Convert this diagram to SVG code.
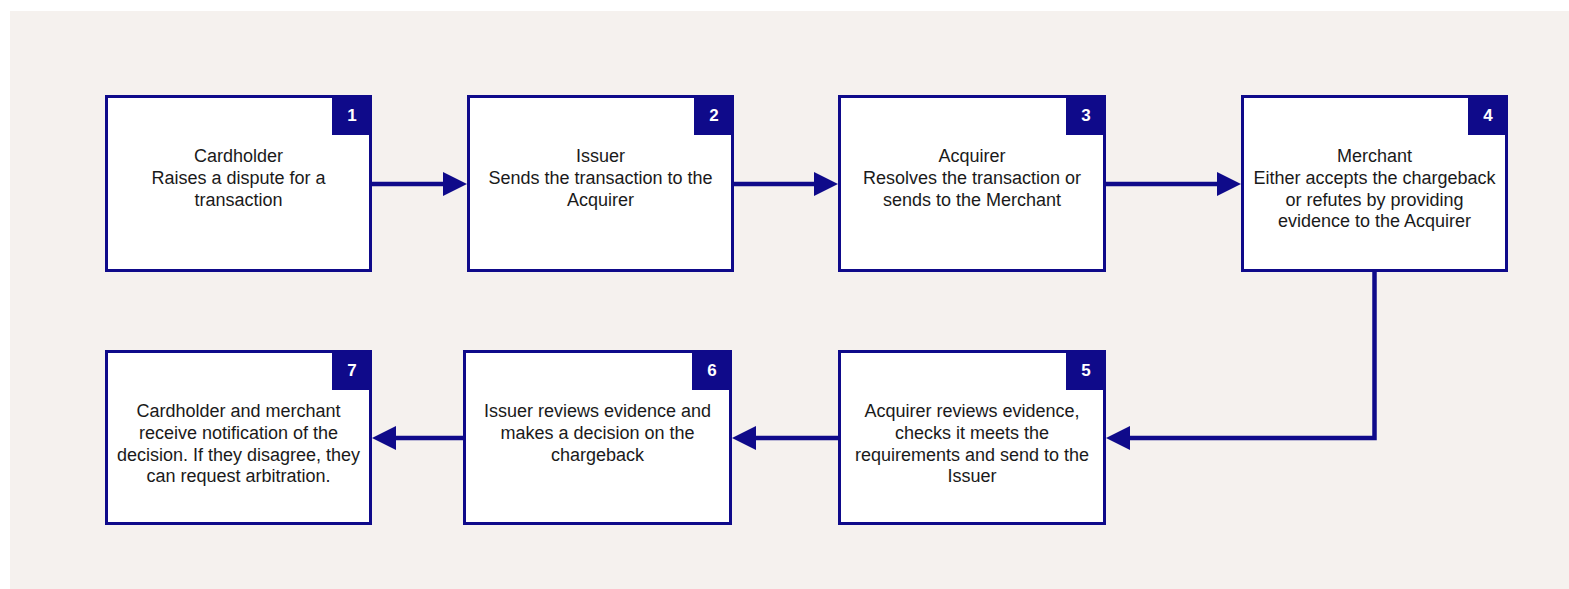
<svg xmlns="http://www.w3.org/2000/svg" width="1569" height="589" viewBox="0 0 1569 589">
<style>
.box{fill:#ffffff;stroke:#0f0a8a;stroke-width:3}
.badge{fill:#0f0a8a}
.num{font-family:"Liberation Sans",Arial,sans-serif;font-size:17px;font-weight:bold;fill:#ffffff;text-anchor:middle}
.txt{font-family:"Liberation Sans",Arial,sans-serif;font-size:18px;fill:#1a1a1a;text-anchor:middle}
.conn{fill:none;stroke:#0f0a8a;stroke-width:4.5}
</style>
<defs>
<marker id="ah" markerUnits="userSpaceOnUse" markerWidth="24" markerHeight="24" refX="0" refY="12" orient="auto" viewBox="0 0 24 24">
<path d="M0,0 L24,12 L0,24 Z" fill="#0f0a8a"/>
</marker>
</defs>
<rect x="10" y="11" width="1559" height="578" fill="#f5f1ee"/>
<g id="connectors">
<line class="conn" x1="372" y1="184" x2="443" y2="184" marker-end="url(#ah)"/>
<line class="conn" x1="734" y1="184" x2="814" y2="184" marker-end="url(#ah)"/>
<line class="conn" x1="1106" y1="184" x2="1217" y2="184" marker-end="url(#ah)"/>
<polyline class="conn" points="1374.5,272 1374.5,438 1130,438" marker-end="url(#ah)"/>
<line class="conn" x1="838" y1="438" x2="756" y2="438" marker-end="url(#ah)"/>
<line class="conn" x1="463" y1="438" x2="396" y2="438" marker-end="url(#ah)"/>
</g>
<g id="node1">
<rect class="box" x="106.5" y="96.5" width="264" height="174"/>
<rect class="badge" x="332" y="95" width="40" height="40"/>
<text class="num" x="352" y="121">1</text>
<text class="txt" x="238.5" y="162.3">Cardholder</text>
<text class="txt" x="238.5" y="183.9">Raises a dispute for a</text>
<text class="txt" x="238.5" y="205.5">transaction</text>
</g>
<g id="node2">
<rect class="box" x="468.5" y="96.5" width="264" height="174"/>
<rect class="badge" x="694" y="95" width="40" height="40"/>
<text class="num" x="714" y="121">2</text>
<text class="txt" x="600.5" y="162.3">Issuer</text>
<text class="txt" x="600.5" y="183.9">Sends the transaction to the</text>
<text class="txt" x="600.5" y="205.5">Acquirer</text>
</g>
<g id="node3">
<rect class="box" x="839.5" y="96.5" width="265" height="174"/>
<rect class="badge" x="1066" y="95" width="40" height="40"/>
<text class="num" x="1086" y="121">3</text>
<text class="txt" x="972" y="162.3">Acquirer</text>
<text class="txt" x="972" y="183.9">Resolves the transaction or</text>
<text class="txt" x="972" y="205.5">sends to the Merchant</text>
</g>
<g id="node4">
<rect class="box" x="1242.5" y="96.5" width="264" height="174"/>
<rect class="badge" x="1468" y="95" width="40" height="40"/>
<text class="num" x="1488" y="121">4</text>
<text class="txt" x="1374.5" y="162.3">Merchant</text>
<text class="txt" x="1374.5" y="183.9">Either accepts the chargeback</text>
<text class="txt" x="1374.5" y="205.5">or refutes by providing</text>
<text class="txt" x="1374.5" y="227.1">evidence to the Acquirer</text>
</g>
<g id="node5">
<rect class="box" x="839.5" y="351.5" width="265" height="172"/>
<rect class="badge" x="1066" y="350" width="40" height="40"/>
<text class="num" x="1086" y="376">5</text>
<text class="txt" x="972" y="417.3">Acquirer reviews evidence,</text>
<text class="txt" x="972" y="438.9">checks it meets the</text>
<text class="txt" x="972" y="460.5">requirements and send to the</text>
<text class="txt" x="972" y="482.1">Issuer</text>
</g>
<g id="node6">
<rect class="box" x="464.5" y="351.5" width="266" height="172"/>
<rect class="badge" x="692" y="350" width="40" height="40"/>
<text class="num" x="712" y="376">6</text>
<text class="txt" x="597.5" y="417.3">Issuer reviews evidence and</text>
<text class="txt" x="597.5" y="438.9">makes a decision on the</text>
<text class="txt" x="597.5" y="460.5">chargeback</text>
</g>
<g id="node7">
<rect class="box" x="106.5" y="351.5" width="264" height="172"/>
<rect class="badge" x="332" y="350" width="40" height="40"/>
<text class="num" x="352" y="376">7</text>
<text class="txt" x="238.5" y="417.3">Cardholder and merchant</text>
<text class="txt" x="238.5" y="438.9">receive notification of the</text>
<text class="txt" x="238.5" y="460.5">decision. If they disagree, they</text>
<text class="txt" x="238.5" y="482.1">can request arbitration.</text>
</g>
</svg>
